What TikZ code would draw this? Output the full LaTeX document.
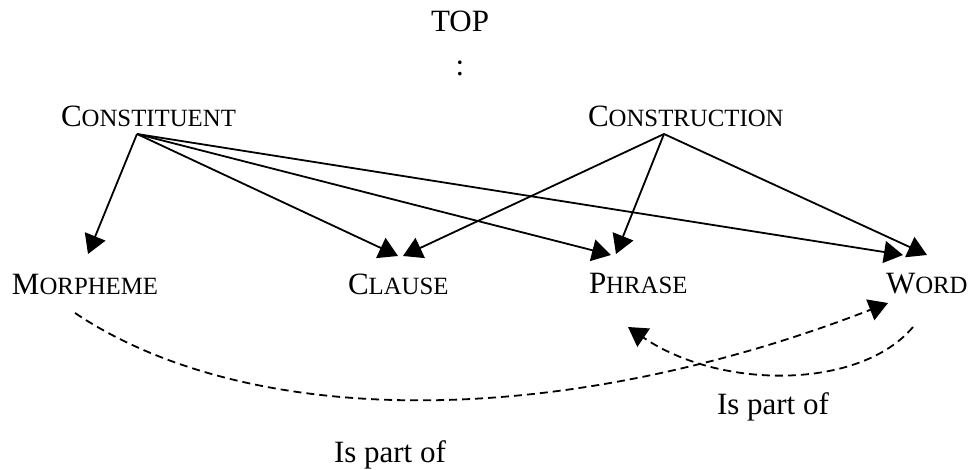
\documentclass[tikz,border=0pt]{standalone}
\usepackage{fontspec}
\setmainfont{Liberation Serif}
\usetikzlibrary{arrows.meta}
\newcommand\fakesc[2]{#1{\fontsize{24.8}{30}\selectfont #2}}
\tikzset{
  lbl/.style={inner sep=0pt, outer sep=0pt, anchor=base west, font=\fontsize{31}{37}\selectfont},
  lblc/.style={inner sep=0pt, outer sep=0pt, anchor=base, font=\fontsize{31}{37}\selectfont},
  arr/.style={line width=1.8pt, -{Triangle[length=19pt,width=22pt]}},
  darr/.style={line width=1.8pt, dash pattern=on 8pt off 5pt, -{Triangle[length=19pt,width=22pt]}}
}
\begin{document}
\begin{tikzpicture}[x=1pt,y=-1pt]
\useasboundingbox (0,0) rectangle (978,470);
% labels
\node[lblc] (top) at (460,32) {TOP};
\node[lblc] (colon) at (460,76) {:};
\node[lbl] (cst) at (61,127) {\fakesc{C}{ONSTITUENT}};
\node[lbl] (ctr) at (588,127) {\fakesc{C}{ONSTRUCTION}};
\node[lbl] (mor) at (12,295) {\fakesc{M}{ORPHEME}};
\node[lbl] (cla) at (348,295) {\fakesc{C}{LAUSE}};
\node[lbl] (phr) at (589,294) {\fakesc{P}{HRASE}};
\node[lbl] (wrd) at (886,294) {\fakesc{W}{ORD}};
\node[lbl] (ip1) at (717,415) {Is part of};
\node[lbl] (ip2) at (334,463) {Is part of};
% connection points
\coordinate (cstS) at (137,134);
\coordinate (ctrS) at (664,134);
\coordinate (morT) at (88,254);
\coordinate (claT1) at (398,256);
\coordinate (claT2) at (403,256);
\coordinate (phrT1) at (611,255);
\coordinate (phrT2) at (616,254);
\coordinate (wrdT1) at (903,255);
\coordinate (wrdT2) at (927,255);
\coordinate (morB) at (75,313);
\coordinate (wrdB) at (888,303);
\coordinate (wrdR) at (913,327);
\coordinate (phrB) at (628,327);
% arrows
\draw[arr] (cstS) -- (morT);
\draw[arr] (cstS) -- (claT1);
\draw[arr] (cstS) -- (phrT1);
\draw[arr] (cstS) -- (wrdT1);
\draw[arr] (ctrS) -- (claT2);
\draw[arr] (ctrS) -- (phrT2);
\draw[arr] (ctrS) -- (wrdT2);
% dashed curves
\draw[darr] (morB) .. controls (250,430) and (560,430) .. (wrdB);
\draw[darr] (wrdR) .. controls (860,390) and (720,390) .. (phrB);
\end{tikzpicture}
\end{document}
